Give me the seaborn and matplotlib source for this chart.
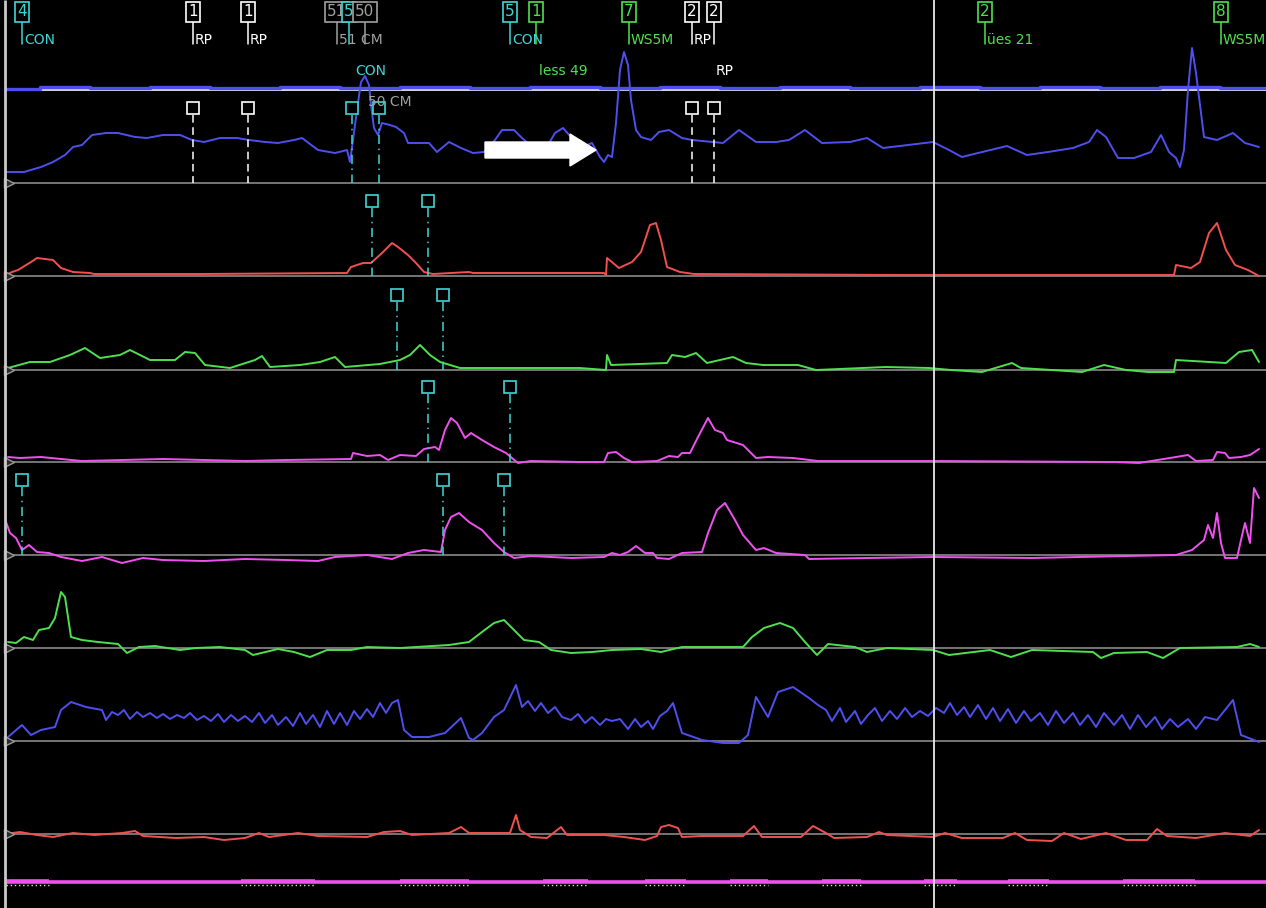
import numpy as np
import pandas as pd
import matplotlib.pyplot as plt
import seaborn as sns

# colours of the recorder
BLUE = '#4f4ff0'
RED = '#f05050'
GREEN = '#4ee04e'
MAG = '#f050f0'
CYAN = '#3fd6d6'
WHITE = '#ffffff'
GRAY = '#a0a0a0'

# baseline row of every channel (top to bottom)
baselines = [90, 183, 276, 370, 462, 555, 648, 741, 834]
colors = [BLUE, BLUE, RED, GREEN, MAG, MAG, GREEN, BLUE, RED]

# channel traces: time (sample) and amplitude above baseline
ch1_t = [6, 40, 90, 150, 210, 280, 340, 400, 470, 530, 600, 660, 720, 780, 850, 920, 980, 1040, 1100, 1160, 1220, 1266]
ch1_v = [1, 3, 2, 3, 2, 3, 2, 3, 2, 3, 2, 3, 2, 3, 2, 3, 2, 3, 2, 3, 2, 2]

ch2_t = [6, 24, 41, 53, 65, 73, 82, 92, 106, 118, 135, 147, 163, 180, 192, 204, 220, 237, 249, 265,
         278, 294, 302, 318, 335, 347, 350, 353, 357, 361, 365, 369, 371, 374, 378, 382, 390, 396, 404, 408,
         429, 437, 449, 461, 473, 484, 495, 502, 514, 522, 530, 545, 555, 563, 571, 580, 592, 600, 604, 608,
         612, 616, 620, 624, 628, 631, 636, 641, 651, 659, 669, 682, 692, 723, 739, 756, 776, 789, 805, 822,
         850, 867, 883, 908, 933, 949, 962, 978, 1007, 1027, 1048, 1073, 1089, 1097, 1106, 1118, 1134, 1151,
         1161, 1169, 1176, 1180, 1184, 1188, 1192, 1196, 1204, 1217, 1233, 1245, 1259]
ch2_v = [11, 11, 16, 21, 28, 36, 38, 48, 50, 50, 46, 45, 48, 48, 43, 41, 45, 45, 43, 41,
         40, 43, 45, 33, 30, 33, 21, 43, 73, 101, 107, 98, 78, 55, 48, 60, 58, 56, 50, 40,
         40, 31, 41, 35, 30, 31, 43, 53, 53, 45, 38, 33, 50, 55, 46, 35, 40, 26, 21, 28,
         26, 60, 113, 131, 118, 83, 53, 46, 43, 51, 53, 45, 43, 40, 53, 41, 41, 43, 53, 40,
         41, 45, 35, 38, 41, 33, 26, 30, 37, 28, 31, 35, 41, 53, 46, 25, 25, 31,
         48, 31, 25, 16, 33, 93, 135, 110, 46, 43, 50, 40, 36]

ch3_t = [6, 12, 18, 31, 37, 53, 61, 73, 90, 94, 200, 347, 351, 363, 371, 382, 392, 398, 408, 416,
         424, 433, 469, 473, 604, 606, 607, 619, 632, 641, 650, 656, 661, 667, 680, 694, 900, 1174, 1176,
         1191, 1200, 1209, 1217, 1226, 1235, 1248, 1259]
ch3_v = [1, 4, 6, 14, 18, 16, 8, 4, 3, 2, 2, 3, 9, 13, 13, 23, 33, 29, 21, 13,
         4, 2, 4, 3, 3, 1, 18, 8, 14, 24, 51, 53, 36, 9, 4, 2, 1, 1, 11,
         8, 14, 43, 53, 26, 11, 6, 0]

ch4_t = [8, 30, 50, 70, 85, 100, 120, 130, 150, 175, 185, 195, 205, 230, 255, 262, 270, 300, 320, 335,
         345, 380, 400, 410, 420, 430, 440, 460, 520, 580, 606, 607, 611, 667, 672, 685, 696, 707, 733, 746,
         763, 798, 816, 886, 929, 951, 982, 1012, 1021, 1082, 1104, 1126, 1148, 1174, 1176, 1226, 1239, 1252, 1259]
ch4_v = [2, 8, 8, 15, 22, 12, 15, 20, 10, 10, 18, 17, 5, 2, 10, 14, 3, 5, 8, 13,
         3, 6, 10, 15, 25, 15, 8, 2, 2, 2, 0, 15, 5, 7, 15, 13, 17, 7, 13, 7,
         5, 5, 0, 3, 2, 0, -2, 7, 2, -2, 5, 0, -2, -2, 10, 7, 18, 20, 8]

ch5_t = [8, 20, 41, 61, 82, 163, 245, 286, 351, 353, 367, 380, 388, 400, 416, 424, 435, 439, 445, 451,
         457, 465, 471, 482, 494, 506, 518, 531, 580, 604, 608, 616, 624, 632, 657, 669, 678, 682, 690, 698,
         708, 715, 723, 727, 743, 756, 768, 793, 818, 933, 1114, 1139, 1176, 1188, 1196, 1213, 1217, 1225,
         1229, 1241, 1250, 1259]
ch5_v = [5, 4, 5, 3, 1, 3, 1, 2, 3, 9, 6, 7, 2, 7, 6, 13, 15, 12, 32, 44,
         39, 24, 29, 22, 15, 9, -1, 1, 0, 0, 9, 10, 4, 0, 1, 6, 5, 9, 9, 25,
         44, 32, 29, 22, 17, 4, 5, 4, 1, 1, 0, -1, 5, 7, 1, 2, 10, 9,
         4, 5, 7, 13]

ch6_t = [6, 10, 16, 22, 29, 37, 49, 61, 82, 102, 122, 143, 163, 204, 245, 286, 318, 335, 367, 392,
         408, 424, 441, 445, 451, 459, 469, 482, 494, 504, 514, 531, 571, 604, 612, 620, 628, 636, 645, 653,
         657, 669, 682, 702, 708, 717, 725, 735, 743, 756, 764, 776, 805, 809, 867, 933, 1032, 1176, 1192,
         1204, 1208, 1213, 1217, 1221, 1225, 1237, 1241, 1245, 1250, 1254, 1259]
ch6_v = [33, 22, 17, 5, 10, 3, 2, -2, -6, -2, -8, -3, -5, -6, -4, -5, -6, -2, 0, -4,
         2, 5, 3, 25, 38, 42, 33, 25, 12, 3, -3, -1, -3, -2, 2, 0, 3, 9, 2, 2,
         -3, -4, 2, 3, 22, 45, 52, 35, 20, 5, 7, 2, 0, -4, -3, -2, -3, 0, 5,
         15, 30, 17, 42, 12, -3, -3, 15, 32, 12, 67, 57]

ch7_t = [8, 16, 24, 33, 39, 49, 55, 61, 65, 71, 82, 98, 118, 127, 139, 155, 180, 196, 220, 245,
         253, 278, 294, 310, 327, 351, 367, 400, 449, 469, 482, 494, 504, 514, 524, 539, 551, 571, 592, 612,
         641, 661, 682, 731, 743, 752, 764, 780, 793, 805, 817, 828, 855, 867, 887, 933, 949, 990, 1011, 1032,
         1093, 1101, 1114, 1147, 1163, 1180, 1237, 1250, 1259]
ch7_v = [6, 5, 11, 8, 18, 20, 30, 56, 51, 11, 8, 6, 4, -5, 1, 2, -2, 0, 1, -2,
         -7, -1, -4, -9, -2, -2, 1, 0, 3, 6, 16, 25, 28, 18, 8, 6, -2, -5, -4, -2,
         -1, -4, 1, 1, 1, 11, 20, 25, 20, 6, -7, 4, 1, -4, 0, -2, -7, -2, -9, -2,
         -4, -10, -5, -4, -10, 0, 1, 4, 1]

ch8_t = [8, 22, 31, 41, 55, 61, 71, 86, 102, 106, 112, 118, 124, 130, 137, 143, 150, 157, 163,
         170, 177, 184, 190, 197, 204, 211, 218, 224, 231, 238, 245, 252, 259, 265, 272, 278, 286, 293,
         300, 306, 313, 320, 327, 334, 340, 347, 354, 360, 367, 373, 380, 386, 392, 398, 404, 412, 429,
         445, 461, 469, 473, 482, 494, 504, 516, 522, 528, 535, 541, 548, 555, 562, 571, 578, 585, 592,
         600, 606, 612, 620, 628, 635, 641, 648, 653, 660, 667, 673, 682, 702, 723, 739, 748, 756, 768,
         778, 793, 809, 818, 826, 832, 840, 846, 855, 861, 868, 875, 882, 890, 897, 905, 912, 920, 928,
         936, 944, 950, 957, 964, 970, 978, 986, 993, 1000, 1008, 1016, 1024, 1031, 1040, 1048, 1056,
         1064, 1073, 1080, 1088, 1096, 1104, 1114, 1122, 1130, 1138, 1146, 1155, 1162, 1170, 1178, 1188,
         1196, 1205, 1217, 1233, 1241, 1259]
ch8_v = [4, 16, 6, 11, 14, 31, 39, 34, 31, 21, 29, 26, 31, 22, 29, 24, 28, 23, 27,
         22, 26, 23, 28, 21, 25, 20, 27, 19, 26, 20, 25, 19, 28, 18, 26, 16, 24, 15,
         28, 17, 26, 14, 30, 17, 28, 16, 30, 22, 32, 24, 38, 28, 38, 41, 11, 4, 4,
         8, 23, 3, 1, 8, 24, 31, 56, 34, 40, 30, 38, 28, 34, 24, 21, 27, 18, 24,
         16, 22, 20, 22, 12, 22, 14, 20, 12, 25, 30, 38, 8, 1, -2, -2, 6, 44, 24,
         49, 54, 43, 36, 31, 20, 33, 19, 30, 17, 26, 33, 20, 30, 22, 33, 24, 30, 25,
         33, 28, 38, 26, 34, 24, 36, 22, 33, 20, 32, 18, 30, 20, 28, 16, 30,
         18, 28, 16, 26, 14, 28, 16, 26, 12, 26, 14, 24, 12, 22, 14, 22,
         12, 24, 21, 41, 6, -1]

ch9_t = [12, 20, 37, 53, 73, 94, 122, 135, 143, 176, 204, 224, 245, 259, 269, 298, 318, 367, 384, 400,
         412, 449, 461, 469, 510, 516, 520, 531, 547, 561, 567, 604, 624, 645, 657, 661, 669, 678, 682, 702,
         743, 754, 762, 801, 813, 826, 834, 867, 879, 887, 933, 945, 962, 1003, 1015, 1027, 1052, 1064, 1081,
         1106, 1126, 1147, 1157, 1167, 1196, 1225, 1250, 1259]
ch9_v = [1, 2, -1, -3, 1, -1, 1, 3, -2, -4, -3, -6, -4, 1, -3, 1, -2, -3, 2, 3,
         -1, 1, 7, 1, 1, 19, 4, -3, -4, 7, -1, -1, -3, -6, -2, 7, 9, 6, -3, -2,
         -2, 8, -3, -3, 8, 1, -4, -3, 2, -1, -3, 1, -4, -4, 1, -6, -7, 1, -5,
         1, -6, -6, 5, -2, -4, 1, -2, 4]

traces_t = [ch1_t, ch2_t, ch3_t, ch4_t, ch5_t, ch6_t, ch7_t, ch8_t, ch9_t]
traces_v = [ch1_v, ch2_v, ch3_v, ch4_v, ch5_v, ch6_v, ch7_v, ch8_v, ch9_v]

# bottom event channel: raised (marked) intervals
ev_start = [6, 241, 400, 543, 645, 730, 822, 924, 1008, 1123]
ev_end = [49, 315, 469, 588, 686, 768, 861, 957, 1049, 1195]
ev_row = 882

# top annotation boxes
top_x = [22, 193, 248, 337, 349, 365, 510, 536, 629, 692, 714, 985, 1221]
top_num = ['4', '1', '1', '51', '5', '50', '5', '1', '7', '2', '2', '2', '8']
top_col = [CYAN, WHITE, WHITE, GRAY, CYAN, GRAY, CYAN, GREEN, GREEN, WHITE, WHITE, GREEN, GREEN]
top_lab = ['CON', 'RP', 'RP', '51 CM', '', '', 'CON', '', 'WS5M', 'RP', '', 'ües 21', 'WS5M']

# free texts
txt = ['CON', 'less 49', 'RP', '50 CM']
txt_x = [371, 563, 725, 390]
txt_y = [71, 71, 71, 102]
txt_col = [CYAN, GREEN, WHITE, GRAY]

# markers in channels: (channel index, time, colour)
mk_ch = [1, 1, 1, 1, 1, 1, 2, 2, 3, 3, 4, 4, 5, 5, 5]
mk_t = [193, 248, 352, 379, 692, 714, 372, 428, 397, 443, 428, 510, 22, 443, 504]
mk_col = [WHITE, WHITE, CYAN, CYAN, WHITE, WHITE, CYAN, CYAN, CYAN, CYAN, CYAN, CYAN, CYAN, CYAN, CYAN]

sns.set_theme(style='dark', rc={'axes.facecolor': 'black', 'figure.facecolor': 'black'})
plt.rcParams['font.family'] = ['DejaVu Sans']

fig = plt.figure(figsize=(12.66, 9.08), dpi=100)
ax = fig.add_axes([0, 0, 1, 1])
ax.set_facecolor('black')
ax.set_xlim(0, 1266)
ax.set_ylim(908, 0)
ax.axis('off')

# baselines, left border, cursor
for i, b in enumerate(baselines):
    ax.hlines(b, 6, 1266, color='#d8d8d8' if i == 0 else '#8a8a8a', lw=1.4 if i == 0 else 1.2, zorder=1)
    if i > 0:
        ax.plot(9, b, marker='>', ms=7, mfc='#2a2a2a', mec='#9a9a9a', mew=1, zorder=4)
ax.vlines(5, 0, 908, color='#c8c8c8', lw=2, zorder=5)
ax.vlines(934, 0, 908, color='#e8e8e8', lw=1.3, zorder=6)

# traces
for i in range(len(traces_t)):
    df = pd.DataFrame({'t': traces_t[i], 'y': baselines[i] - np.array(traces_v[i])})
    sns.lineplot(data=df, x='t', y='y', ax=ax, color=colors[i], estimator=None, sort=False,
                 lw=2.4 if i == 0 else 1.4, drawstyle='steps-post' if i == 0 else 'default', zorder=3)

# event channel
n_ev = len(ev_start)
ax.hlines(ev_row, 6, 1266, color=MAG, lw=2.6, zorder=3)
ax.hlines([ev_row - 1.5] * n_ev, ev_start, ev_end, color=MAG, lw=2.6, zorder=3)
ax.hlines([ev_row + 2.5] * n_ev, ev_start, ev_end, color='#dddddd', lw=1, linestyles=(0, (1, 2)), zorder=3)

# channel markers with stems
for c, t, col in zip(mk_ch, mk_t, mk_col):
    top = baselines[c] - 75
    ls = (0, (5, 3)) if col == WHITE else (0, (6, 3, 1, 3))
    ax.vlines(t, top + 7, baselines[c], color=col, lw=1.1, linestyles=ls, zorder=4)
    ax.plot(t, top, marker='s', ms=9, mfc='black', mec=col, mew=1.2, ls='none', zorder=5)

# top annotation boxes
for x, n, col, lab in zip(top_x, top_num, top_col, top_lab):
    ax.plot([x, x], [22, 44], color=col, lw=1.1, zorder=4)
    ax.text(x, 12, n, color=col, ha='center', va='center', fontsize=11, zorder=6,
            bbox=dict(boxstyle='square,pad=0.15', fc='black', ec=col, lw=1.2))
    if lab:
        ax.text(x + 2, 40, lab, color=col, ha='left', va='center', fontsize=10, zorder=6)

for s, x, y, col in zip(txt, txt_x, txt_y, txt_col):
    ax.text(x, y, s, color=col, ha='center', va='center', fontsize=10, zorder=6)

# arrow pointing at the event
ax.arrow(485, 150, 111, 0, width=16, head_width=32, head_length=26, length_includes_head=True,
         color='white', zorder=7)

fig.savefig('out.png', dpi=100, facecolor='black')
